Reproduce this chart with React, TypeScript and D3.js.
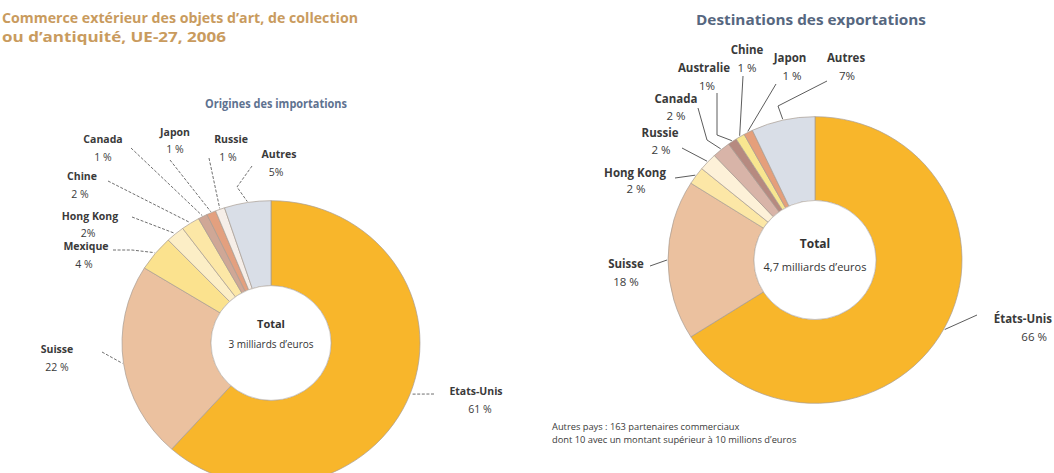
import React from "react";
import * as d3 from "d3";

// ---------- DATA ----------
const importCountries = ["Etats-Unis", "Suisse", "Mexique", "Hong Kong", "Chine", "Canada", "Japon", "Russie", "Autres"];
const importShares = [61, 22, 4, 2, 2, 1, 1, 1, 5];
const importPctLabels = ["61 %", "22 %", "4 %", "2%", "2 %", "1 %", "1 %", "1 %", "5%"];

const exportCountries = ["États-Unis", "Suisse", "Hong Kong", "Russie", "Canada", "Australie", "Chine", "Japon", "Autres"];
const exportShares = [66, 18, 2, 2, 2, 1, 1, 1, 7];
const exportPctLabels = ["66 %", "18 %", "2 %", "2 %", "2 %", "1%", "1 %", "1 %", "7%"];

const titleLines = ["Commerce extérieur des objets d\u2019art, de collection", "ou d\u2019antiquité, UE-27, 2006"];
const importTitle = "Origines des importations";
const exportTitle = "Destinations des exportations";
const importTotal = "3 milliards d\u2019euros";
const exportTotal = "4,7 milliards d\u2019euros";
const footnoteLines = ["Autres pays : 163 partenaires commerciaux", "dont 10 avec un montant supérieur à 10 millions d\u2019euros"];

// ---------- STYLE / LAYOUT ----------
const importColors = ["#F8B62B", "#EBC19F", "#FBE28E", "#FCEEC6", "#FCE7A6", "#CFA796", "#E3A07F", "#F6EEE8", "#D9DEE7"];
const exportColors = ["#F8B62B", "#EBC19F", "#FCE7A6", "#FDF1D8", "#D8B4A8", "#B68A80", "#F8E690", "#E59F7B", "#D9DEE7"];

const FONT = "'Open Sans', 'Noto Sans', sans-serif";

type LabelLayout = { nx: number; ny: number; px: number; py: number; anchor?: string; end: [number, number]; via?: [number, number][] };

const importLayout: LabelLayout[] = [
  { nx: 476, ny: 395, px: 480, py: 413, end: [434, 394] },
  { nx: 57, ny: 353, px: 57, py: 371, end: [102, 352] },
  { nx: 86, ny: 250, px: 84, py: 268, end: [113, 250], via: [[132, 250]] },
  { nx: 90, ny: 220, px: 88, py: 237, end: [132, 217] },
  { nx: 82, ny: 180, px: 80, py: 198, end: [108, 181] },
  { nx: 103, ny: 143, px: 103, py: 161, end: [131, 148] },
  { nx: 175, ny: 136, px: 175, py: 153, end: [170, 160] },
  { nx: 231, ny: 143, px: 228, py: 161, end: [209, 158] },
  { nx: 279, ny: 158, px: 276, py: 176, end: [252, 166], via: [[237, 187]] },
];

const exportLayout: LabelLayout[] = [
  { nx: 1052, ny: 323, px: 1047, py: 341, anchor: "end", end: [977, 315] },
  { nx: 626, ny: 268, px: 626, py: 286, end: [650, 266] },
  { nx: 635, ny: 177, px: 636, py: 193, end: [675, 178] },
  { nx: 660, ny: 137, px: 661, py: 154, end: [682, 148] },
  { nx: 676, ny: 103, px: 676, py: 120, end: [698, 108], via: [[707, 140]] },
  { nx: 704, ny: 72, px: 707, py: 90, end: [717, 93], via: [[717, 135]] },
  { nx: 747, ny: 54, px: 747, py: 72, end: [743, 76] },
  { nx: 790, ny: 62, px: 792, py: 80, end: [776, 84] },
  { nx: 846, ny: 62, px: 847, py: 80, end: [827, 81], via: [[778, 106]] },
];

type DonutProps = {
  countries: string[];
  values: number[];
  pcts: string[];
  colors: string[];
  layout: LabelLayout[];
  cx: number;
  cy: number;
  r: number;
  ri: number;
  sy: number;
  total: string;
  totalSize: number;
  totalDy: [number, number];
  labelSize: number;
  dashed: boolean;
};

function Donut(p: DonutProps) {
  const pie = d3.pie<number>().sort(null).value((d) => d);
  const arcs = pie(p.values);
  const arc = d3.arc<d3.PieArcDatum<number>>().innerRadius(p.ri).outerRadius(p.r);
  return (
    <g>
      <g transform={`translate(${p.cx},${p.cy}) scale(1,${p.sy})`}>
        {arcs.map((a, i) => (
          <path key={i} d={arc(a) || ""} fill={p.colors[i]} stroke="#a89c92" strokeWidth={0.7} vectorEffect="non-scaling-stroke" />
        ))}
        <circle r={p.ri} fill="#fff" stroke="#b9b0a8" strokeWidth={0.6} vectorEffect="non-scaling-stroke" />
      </g>
      {arcs.map((a, i) => {
        const L = p.layout[i];
        const mid = (a.startAngle + a.endAngle) / 2;
        const sx = p.cx + (p.r + 1) * Math.sin(mid);
        const syy = p.cy - (p.r + 1) * p.sy * Math.cos(mid);
        const pts: [number, number][] = [L.end, ...(L.via || []), [sx, syy]];
        const line = d3.line()(pts) || "";
        const anchor = L.anchor || "middle";
        return (
          <g key={"l" + i}>
            <path d={line} fill="none" stroke="#4a4a4a" strokeWidth={p.dashed ? 0.8 : 0.9} strokeDasharray={p.dashed ? "3,1.6" : undefined} />
            <text x={L.nx} y={L.ny} textAnchor={anchor} fontFamily={FONT} fontSize={p.labelSize} fontWeight={700} fill="#3a3a3a">
              {p.countries[i]}
            </text>
            <text x={L.px} y={L.py} textAnchor={anchor} fontFamily={FONT} fontSize={p.labelSize} fill="#3a3a3a">
              {p.pcts[i]}
            </text>
          </g>
        );
      })}
      <text x={p.cx} y={p.cy + p.totalDy[0]} textAnchor="middle" fontFamily={FONT} fontSize={p.totalSize + 1} fontWeight={700} fill="#333">
        Total
      </text>
      <text x={p.cx} y={p.cy + p.totalDy[1]} textAnchor="middle" fontFamily={FONT} fontSize={p.totalSize} fill="#333">
        {p.total}
      </text>
    </g>
  );
}

export default function App() {
  return (
    <svg width={1054} height={473} style={{ position: "absolute", left: 0, top: 0, background: "#fff" }}>
      <text x={2} y={23} fontFamily={FONT} fontSize={15} fontWeight={700} fill="#C99B5E" textLength={356} lengthAdjust="spacingAndGlyphs">
        {titleLines[0]}
      </text>
      <text x={2} y={42} fontFamily={FONT} fontSize={15} fontWeight={700} fill="#C99B5E" textLength={224} lengthAdjust="spacingAndGlyphs">
        {titleLines[1]}
      </text>
      <text x={276} y={108} textAnchor="middle" fontFamily={FONT} fontSize={12.5} fontWeight={700} fill="#5E7290" textLength={142} lengthAdjust="spacingAndGlyphs">
        {importTitle}
      </text>
      <text x={811} y={25} textAnchor="middle" fontFamily={FONT} fontSize={14} fontWeight={700} fill="#56677F" textLength={230} lengthAdjust="spacingAndGlyphs">
        {exportTitle}
      </text>
      <Donut
        countries={importCountries}
        values={importShares}
        pcts={importPctLabels}
        colors={importColors}
        layout={importLayout}
        cx={271}
        cy={343}
        r={149}
        ri={60}
        sy={0.955}
        total={importTotal}
        totalSize={10}
        totalDy={[-15, 5]}
        labelSize={10.5}
        dashed={true}
      />
      <Donut
        countries={exportCountries}
        values={exportShares}
        pcts={exportPctLabels}
        colors={exportColors}
        layout={exportLayout}
        cx={815}
        cy={260}
        r={147}
        ri={61}
        sy={0.975}
        total={exportTotal}
        totalSize={11}
        totalDy={[-12, 11]}
        labelSize={11.5}
        dashed={false}
      />
      {footnoteLines.map((t, i) => (
        <text key={"f" + i} x={552} y={430 + i * 13} fontFamily={FONT} fontSize={9.3} fill="#3a3a3a">
          {t}
        </text>
      ))}
    </svg>
  );
}
